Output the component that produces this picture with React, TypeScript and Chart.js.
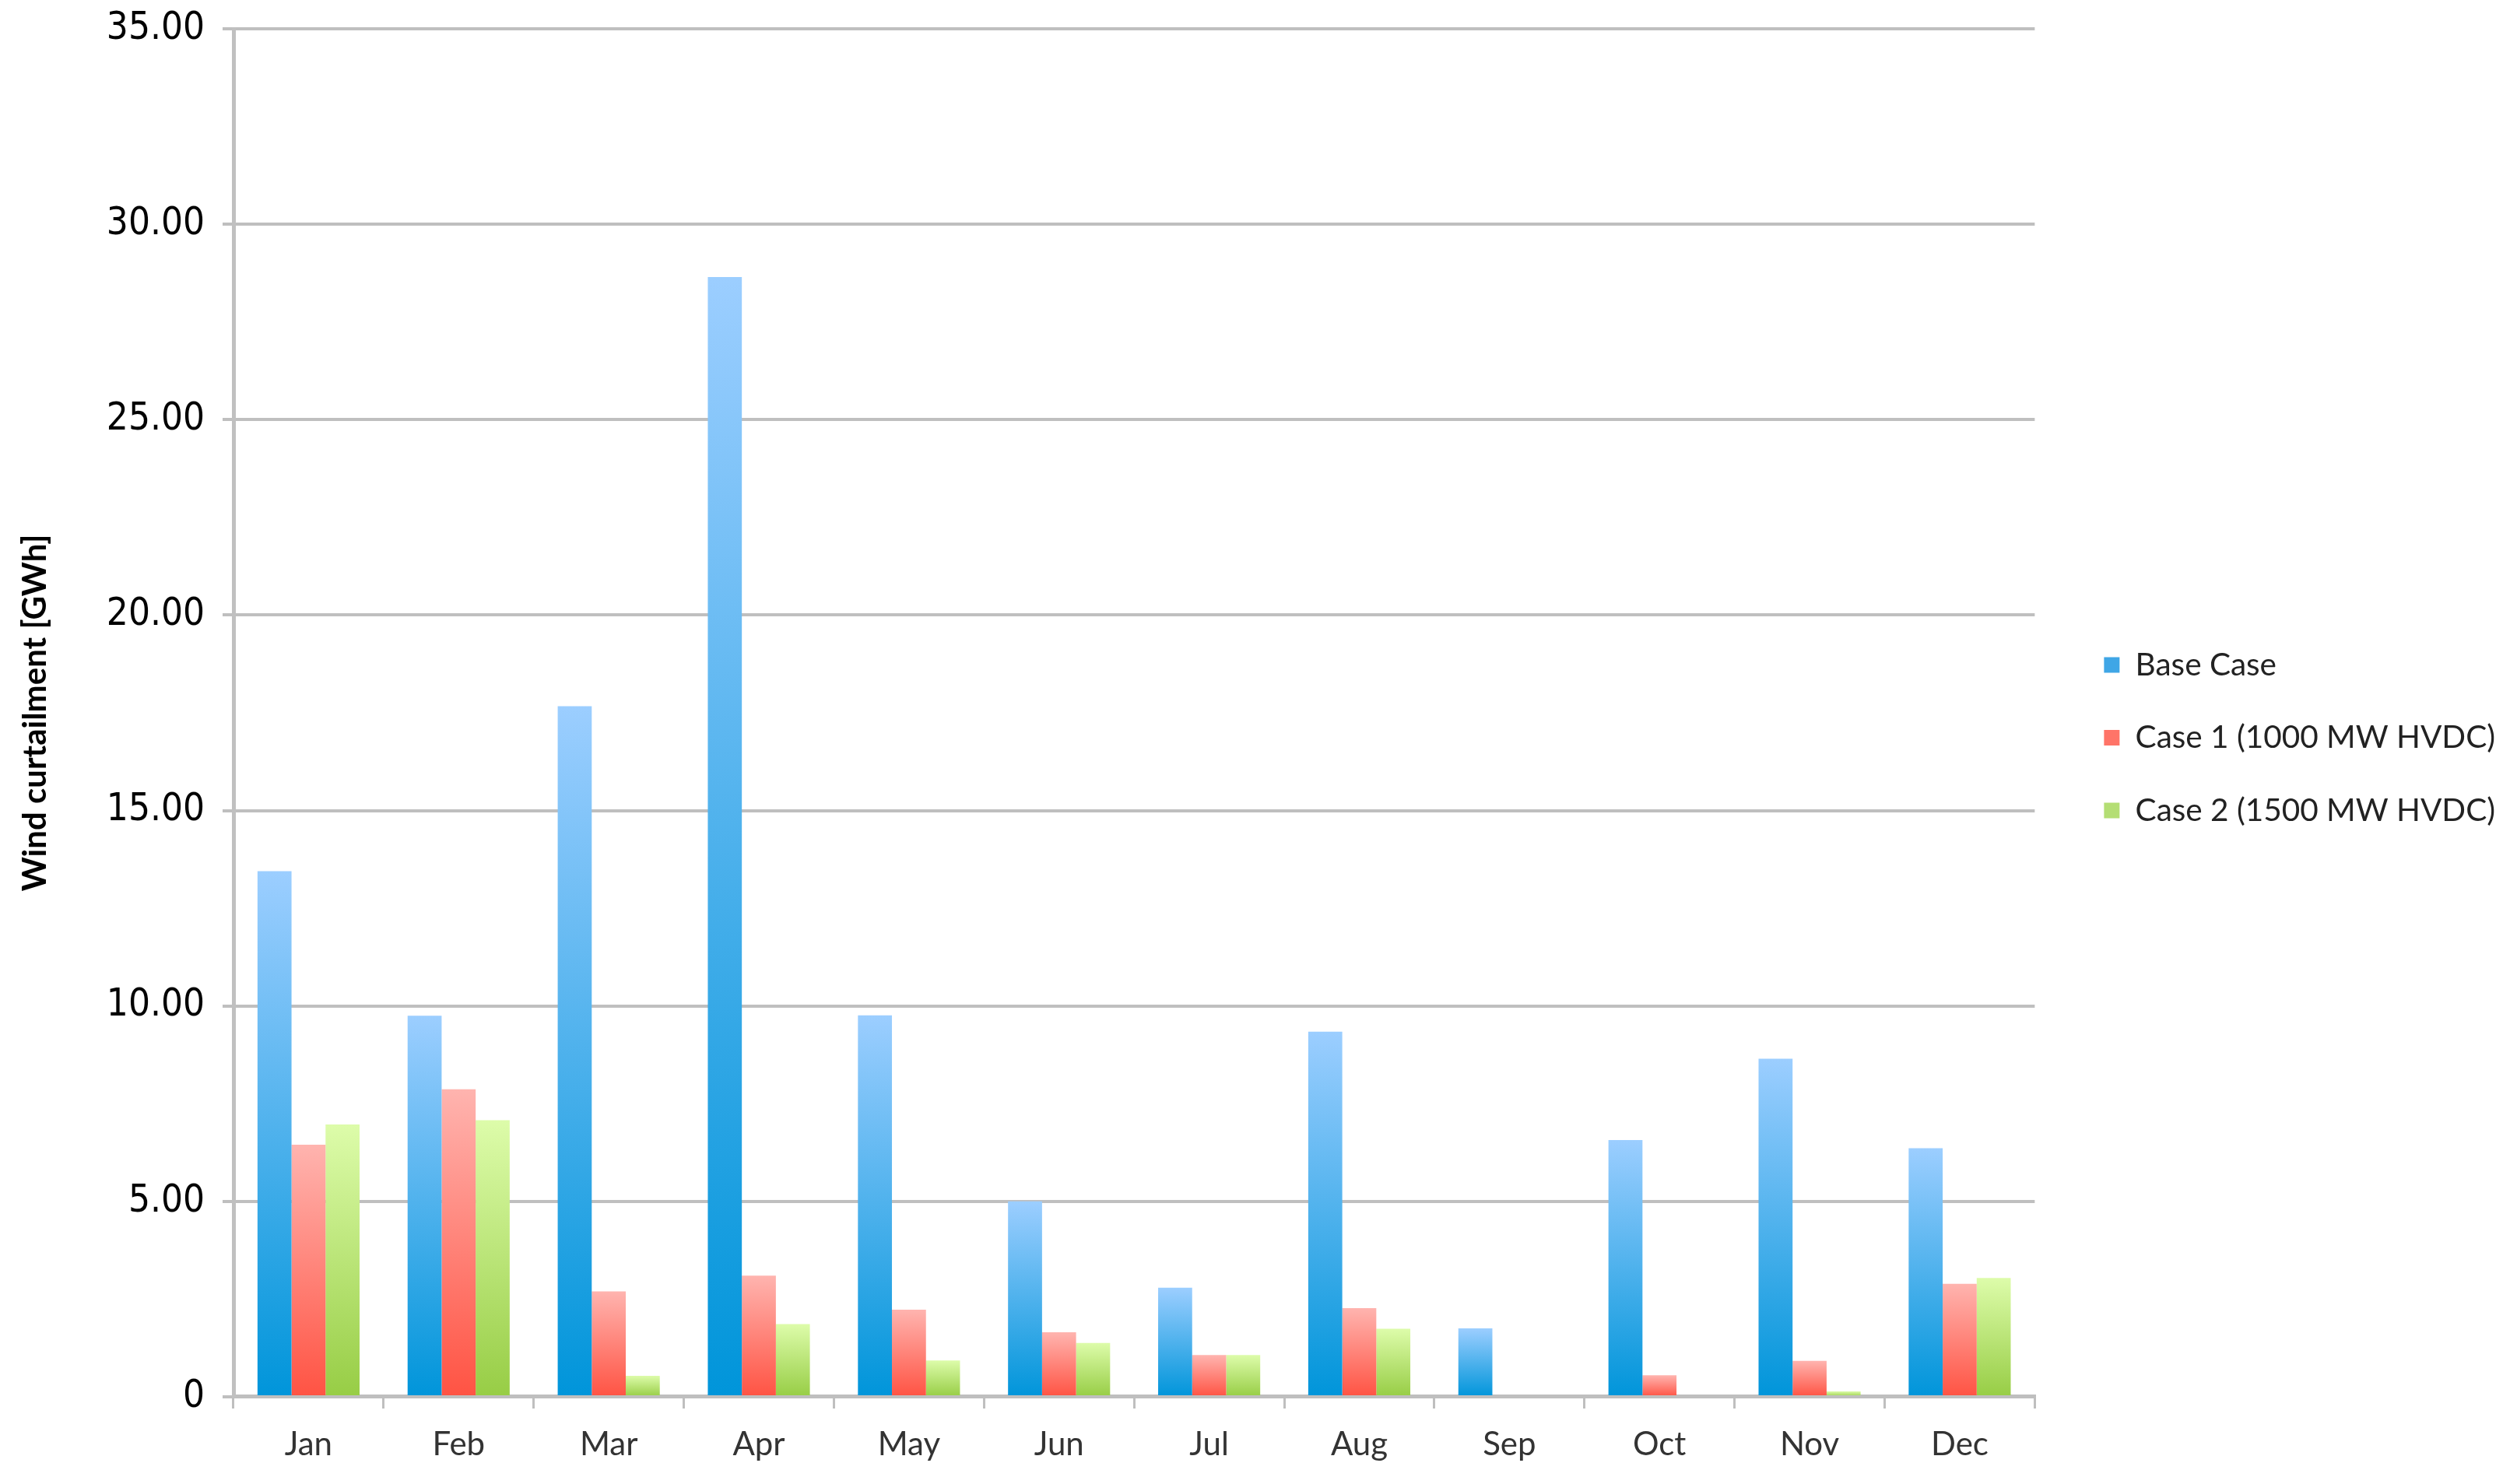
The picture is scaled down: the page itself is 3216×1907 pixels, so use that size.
import React, { useEffect, useRef } from 'react';
import { Chart, registerables } from 'chart.js';

Chart.register(...registerables);

const MONTHS = ['Jan', 'Feb', 'Mar', 'Apr', 'May', 'Jun', 'Jul', 'Aug', 'Sep', 'Oct', 'Nov', 'Dec'];
const BASE_CASE = [13.45, 9.75, 17.67, 28.65, 9.76, 5.0, 2.79, 9.34, 1.75, 6.57, 8.65, 6.36];
const CASE_1 = [6.45, 7.87, 2.7, 3.1, 2.23, 1.65, 1.07, 2.27, 0, 0.55, 0.92, 2.89];
const CASE_2 = [6.97, 7.08, 0.54, 1.86, 0.93, 1.38, 1.07, 1.74, 0, 0, 0.14, 3.04];
const SERIES_NAMES = ['Base Case', 'Case 1 (1000 MW HVDC)', 'Case 2 (1500 MW HVDC)'];
const Y_MIN = 0;
const Y_MAX = 35;
const Y_STEP = 5;
const Y_TITLE = 'Wind curtailment [GWh]';

const FILLS = [
  { top: '#9CCEFF', bottom: '#0095DA', legend: '#3FA6E6' },
  { top: '#FFB4AF', bottom: '#FF5343', legend: '#FF7468' },
  { top: '#DDFCAA', bottom: '#97CD45', legend: '#B4DE74' },
];

function barFill(i: number) {
  return (ctx: any) => {
    const f = FILLS[i];
    const chart = ctx.chart;
    const y = chart.scales && chart.scales.y;
    if (!chart.chartArea || !y || ctx.type !== 'data') return f.legend;
    const yTop = y.getPixelForValue(ctx.raw as number);
    const yBot = y.getPixelForValue(0);
    if (!isFinite(yTop) || !isFinite(yBot) || yBot - yTop < 1) return f.legend;
    const g = chart.ctx.createLinearGradient(0, yTop, 0, yBot);
    g.addColorStop(0, f.top);
    g.addColorStop(1, f.bottom);
    return g;
  };
}

export default function App() {
  const ref = useRef<HTMLCanvasElement>(null);

  useEffect(() => {
    const canvas = ref.current;
    if (!canvas) return;
    const seriesData = [BASE_CASE, CASE_1, CASE_2];
    const chart = new Chart(canvas, {
      type: 'bar',
      data: {
        labels: MONTHS,
        datasets: seriesData.map((d, i) => ({
          label: SERIES_NAMES[i],
          data: d,
          backgroundColor: barFill(i),
          borderWidth: 0,
          categoryPercentage: 0.68,
          barPercentage: 1,
        })),
      },
      options: {
        animation: false,
        responsive: true,
        maintainAspectRatio: false,
        layout: { padding: { top: 0, bottom: 11, left: 0, right: 0 } },
        plugins: {
          legend: {
            position: 'right',
            align: 'center',
            maxWidth: 1000,
            labels: {
              font: { family: 'Lato', size: 40.5 },
              color: '#222222',
              boxWidth: 20,
              boxHeight: 20,
              padding: 53,
              generateLabels: (c: any) =>
                (Chart.defaults.plugins.legend.labels as any).generateLabels(c).map((l: any, i: number) => ({
                  ...l,
                  fillStyle: FILLS[i].legend,
                  strokeStyle: FILLS[i].legend,
                  lineWidth: 0,
                })),
            },
          },
          tooltip: { enabled: false },
        },
        scales: {
          x: {
            offset: true,
            grid: {
              display: true,
              drawOnChartArea: false,
              drawTicks: true,
              tickLength: 15,
              color: '#bfbfbf',
              lineWidth: 3,
              offset: true,
            },
            border: { display: true, color: '#bfbfbf', width: 5 },
            ticks: { font: { family: 'Lato', size: 42 }, color: '#333333', padding: 21 },
            afterFit: (s: any) => {
              s.height = 101;
            },
          },
          y: {
            min: Y_MIN,
            max: Y_MAX,
            ticks: {
              stepSize: Y_STEP,
              font: { family: "'DejaVu Sans Condensed', 'DejaVu Sans'", size: 49, lineHeight: 0.572 },
              color: '#000000',
              padding: 23,
              callback: (v: any) => (Number(v) === 0 ? '0' : Number(v).toFixed(2)),
            },
            grid: { color: '#bfbfbf', lineWidth: 4, tickLength: 14 },
            border: { display: true, color: '#c0c0c0', width: 5 },
            title: {
              display: true,
              text: Y_TITLE,
              font: { family: 'Lato', size: 42, weight: 'bold' },
              color: '#000000',
              padding: { top: 20, bottom: 0 },
            },
            afterFit: (s: any) => {
              s.width = 300;
            },
          },
          y2: {
            position: 'right',
            display: true,
            grid: { display: false },
            border: { display: false },
            ticks: { display: false },
            afterFit: (s: any) => {
              s.width = 36;
            },
          },
        },
      } as any,
    });
    return () => chart.destroy();
  }, []);

  return (
    <div style={{ position: 'absolute', left: 0, top: 0, width: 3216, height: 1907, background: '#ffffff' }}>
      <canvas ref={ref} />
    </div>
  );
}
